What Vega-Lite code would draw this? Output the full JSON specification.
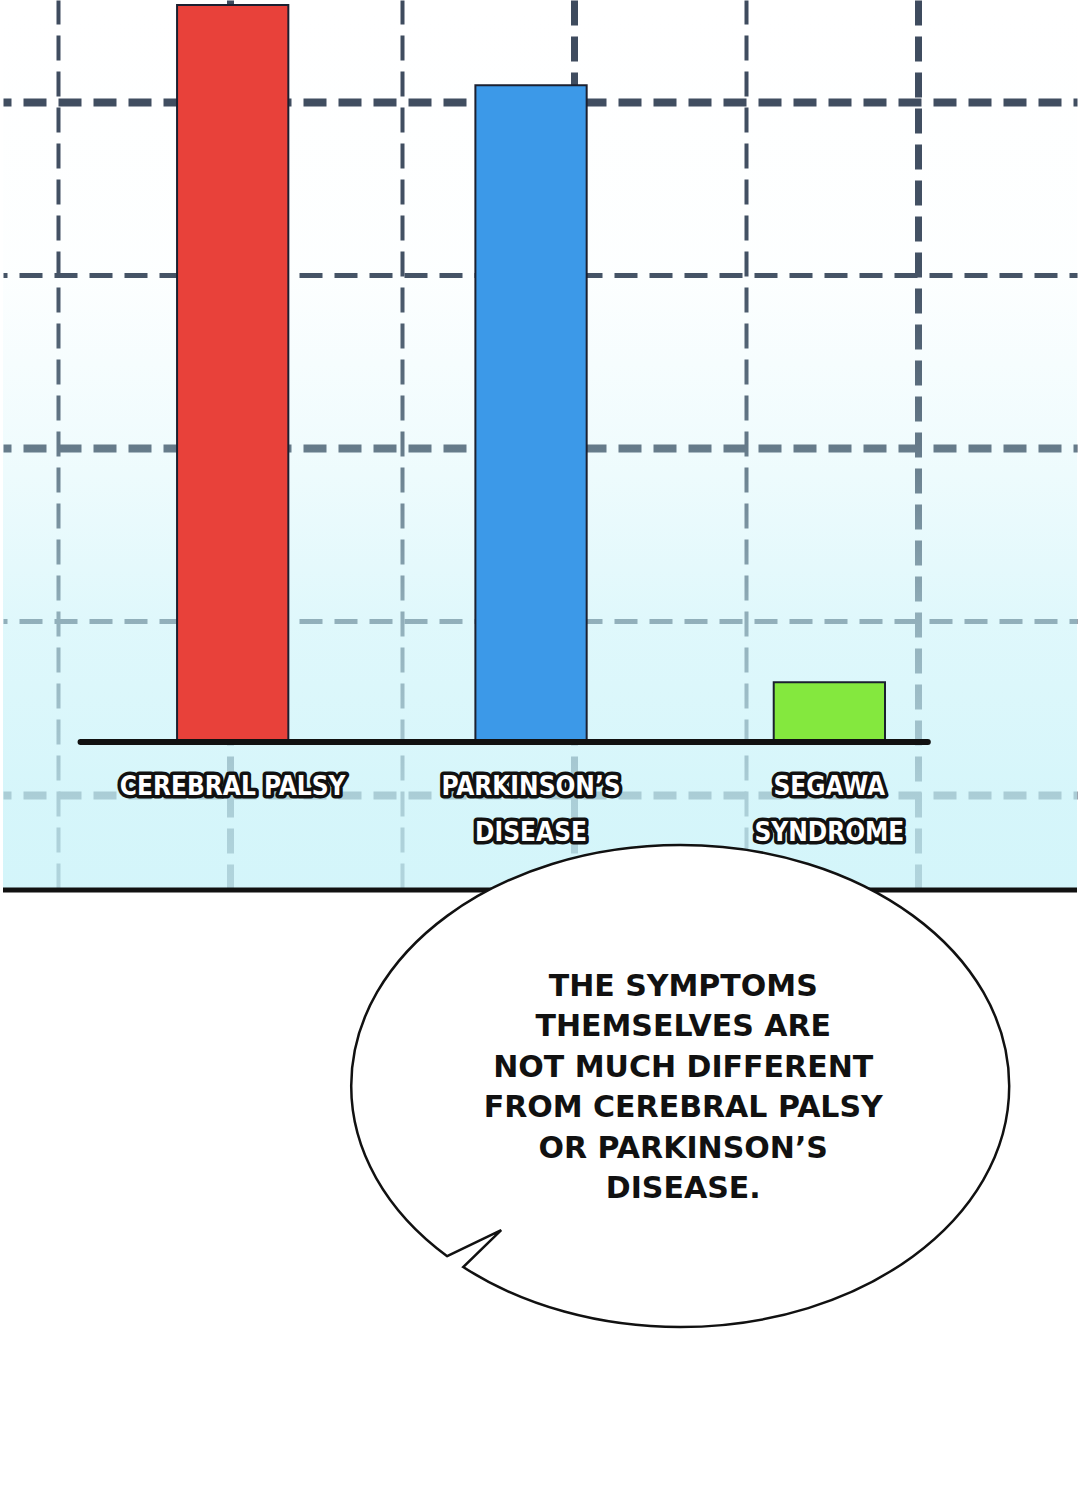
{
  "$schema": "https://vega.github.io/schema/vega-lite/v6.json",
  "width": 1080,
  "height": 1500,
  "autosize": {"type": "fit", "contains": "padding"},
  "padding": 0,
  "background": "#ffffff",
  "config": {"view": {"stroke": null}},
  "datasets": {
    "bars": [
      {"disease": "Cerebral palsy", "label": "CEREBRAL PALSY", "value": 100},
      {"disease": "Parkinson's disease", "label": "PARKINSON’S\nDISEASE", "value": 89.1},
      {"disease": "Segawa syndrome", "label": "SEGAWA\nSYNDROME", "value": 8.1}
    ],
    "speech": [
      {"text": "THE SYMPTOMS\nTHEMSELVES ARE\nNOT MUCH DIFFERENT\nFROM CEREBRAL PALSY\nOR PARKINSON’S\nDISEASE."}
    ]
  },
  "data": {"name": "bars"},
  "resolve": {"scale": {"x": "independent"}, "axis": {"x": "independent", "y": "independent"}},
  "layer": [
    {
      "mark": {"type": "point", "opacity": 0},
      "encoding": {
        "x": {"datum": 0, "type": "quantitative", "scale": {"domain": [-0.3179, 5.9249], "nice": false, "zero": false},
          "axis": {"orient": "bottom", "values": [1, 3, 5], "grid": true, "gridColor": "#3e4b5e", "gridWidth": 7, "gridDash": [25, 11], "domain": false, "ticks": false, "labels": false, "title": null, "zindex": 0}},
        "y": {"datum": 0, "type": "quantitative", "scale": {"domain": [-102.85, 100.68], "nice": false, "zero": false},
          "axis": {"orient": "left", "values": [86.84, 39.89, -7.19], "grid": true, "gridColor": "#3e4b5e", "gridWidth": 8, "gridDash": [23, 12], "gridDashOffset": 15, "domain": false, "ticks": false, "labels": false, "title": null, "zindex": 0}}
      }
    },
    {
      "mark": {"type": "point", "opacity": 0},
      "encoding": {
        "x": {"datum": 0, "type": "quantitative", "scale": {"domain": [-0.3179, 5.9249], "nice": false, "zero": false},
          "axis": {"orient": "top", "values": [0, 2, 4], "grid": true, "gridColor": "#3e4b5e", "gridWidth": 4, "gridDash": [25, 11], "domain": false, "ticks": false, "labels": false, "title": null, "zindex": 0}},
        "y": {"datum": 0, "type": "quantitative", "scale": {"domain": [-102.85, 100.68], "nice": false, "zero": false},
          "axis": {"orient": "right", "values": [63.37, 16.42], "grid": true, "gridColor": "#3e4b5e", "gridWidth": 5, "gridDash": [23, 12], "gridDashOffset": 15, "domain": false, "ticks": false, "labels": false, "title": null, "zindex": 0}}
      }
    },
    {
      "data": {"values": [{}]},
      "mark": {"type": "rect", "color": {"gradient": "linear", "x1": 0, "y1": 0, "x2": 0, "y2": 1, "stops": [
        {"offset": 0, "color": "rgba(202,243,249,0)"},
        {"offset": 0.3, "color": "rgba(202,243,249,0.04)"},
        {"offset": 0.5, "color": "rgba(202,243,249,0.28)"},
        {"offset": 0.7, "color": "rgba(202,243,249,0.6)"},
        {"offset": 0.9, "color": "rgba(202,243,249,0.78)"},
        {"offset": 1, "color": "rgba(202,243,249,0.82)"}
      ]}},
      "encoding": {
        "x": {"value": 0},
        "x2": {"value": "width"},
        "y": {"datum": 100.68, "type": "quantitative", "scale": {"domain": [-102.85, 100.68], "nice": false, "zero": false}, "axis": null},
        "y2": {"datum": -20.08}
      }
    },
    {
      "mark": {"type": "bar", "stroke": "#1b2030", "strokeWidth": 2},
      "encoding": {
        "x": {"field": "disease", "type": "nominal", "sort": null, "scale": {"type": "band", "paddingInner": 0.627, "paddingOuter": 0.6135, "align": 0.4755}, "axis": null},
        "y": {"field": "value", "type": "quantitative", "scale": {"domain": [-102.85, 100.68], "nice": false, "zero": false}, "axis": null},
        "color": {"field": "disease", "type": "nominal", "sort": null, "scale": {"domain": ["Cerebral palsy", "Parkinson's disease", "Segawa syndrome"], "range": ["#e8413a", "#3c99e8", "#84e83e"]}, "legend": null}
      }
    },
    {
      "data": {"values": [{}]},
      "mark": {"type": "rule", "color": "#111111", "strokeWidth": 6, "strokeCap": "round"},
      "encoding": {
        "x": {"datum": 0.1329, "type": "quantitative", "scale": {"domain": [-0.3179, 5.9249], "nice": false, "zero": false}, "axis": null},
        "x2": {"datum": 5.0578},
        "y": {"datum": 0, "type": "quantitative", "scale": {"domain": [-102.85, 100.68], "nice": false, "zero": false}, "axis": null}
      }
    },
    {
      "mark": {"type": "text", "font": "DejaVu Sans Condensed, Roboto, DejaVu Sans, sans-serif", "fontWeight": "bold", "fontSize": 26, "lineBreak": "\n", "lineHeight": 46, "align": "center", "baseline": "middle", "dy": 45, "fill": "#111111", "stroke": "#111111", "strokeWidth": 7, "strokeJoin": "round"},
      "encoding": {
        "x": {"field": "disease", "type": "nominal", "sort": null, "scale": {"type": "band", "paddingInner": 0.627, "paddingOuter": 0.6135, "align": 0.4755}, "axis": null},
        "y": {"datum": 0, "type": "quantitative", "scale": {"domain": [-102.85, 100.68], "nice": false, "zero": false}, "axis": null},
        "text": {"field": "label"}
      }
    },
    {
      "mark": {"type": "text", "font": "DejaVu Sans Condensed, Roboto, DejaVu Sans, sans-serif", "fontWeight": "bold", "fontSize": 26, "lineBreak": "\n", "lineHeight": 46, "align": "center", "baseline": "middle", "dy": 45, "fill": "#ffffff"},
      "encoding": {
        "x": {"field": "disease", "type": "nominal", "sort": null, "scale": {"type": "band", "paddingInner": 0.627, "paddingOuter": 0.6135, "align": 0.4755}, "axis": null},
        "y": {"datum": 0, "type": "quantitative", "scale": {"domain": [-102.85, 100.68], "nice": false, "zero": false}, "axis": null},
        "text": {"field": "label"}
      }
    },
    {
      "data": {"values": [{}]},
      "mark": {"type": "rect", "color": "#ffffff"},
      "encoding": {
        "x": {"value": 0},
        "x2": {"value": "width"},
        "y": {"datum": -20.08, "type": "quantitative", "scale": {"domain": [-102.85, 100.68], "nice": false, "zero": false}, "axis": null},
        "y2": {"datum": -102.85}
      }
    },
    {
      "data": {"values": [{}]},
      "mark": {"type": "rule", "color": "#111111", "strokeWidth": 5},
      "encoding": {
        "x": {"value": 0},
        "x2": {"value": "width"},
        "y": {"datum": -20.08, "type": "quantitative", "scale": {"domain": [-102.85, 100.68], "nice": false, "zero": false}, "axis": null}
      }
    },
    {
      "data": {"values": [{}]},
      "mark": {"type": "point", "shape": "M -0.7083 0.5171 L -0.5441 0.4377 L -0.6596 0.5502 C -0.4775 0.6678 -0.2430 0.7325 0 0.7325 C 0.5523 0.7325 1 0.4046 1 0 C 1 -0.4046 0.5523 -0.7325 0 -0.7325 C -0.5523 -0.7325 -1 -0.4046 -1 0 C -1 0.1938 -0.8951 0.3798 -0.7083 0.5171 Z", "size": 432964, "filled": true, "fill": "#ffffff", "stroke": "#111111", "strokeWidth": 2.5, "opacity": 1, "strokeJoin": "miter"},
      "encoding": {
        "x": {"datum": 3.6185, "type": "quantitative", "scale": {"domain": [-0.3179, 5.9249], "nice": false, "zero": false}, "axis": null},
        "y": {"datum": -46.68, "type": "quantitative", "scale": {"domain": [-102.85, 100.68], "nice": false, "zero": false}, "axis": null}
      }
    },
    {
      "data": {"name": "speech"},
      "mark": {"type": "text", "font": "DejaVu Sans", "fontWeight": "bold", "fontSize": 30, "lineBreak": "\n", "lineHeight": 40.5, "align": "center", "baseline": "middle", "fill": "#111111"},
      "encoding": {
        "x": {"datum": 3.636, "type": "quantitative", "scale": {"domain": [-0.3179, 5.9249], "nice": false, "zero": false}, "axis": null},
        "y": {"datum": -33.24, "type": "quantitative", "scale": {"domain": [-102.85, 100.68], "nice": false, "zero": false}, "axis": null},
        "text": {"field": "text"}
      }
    }
  ]
}
